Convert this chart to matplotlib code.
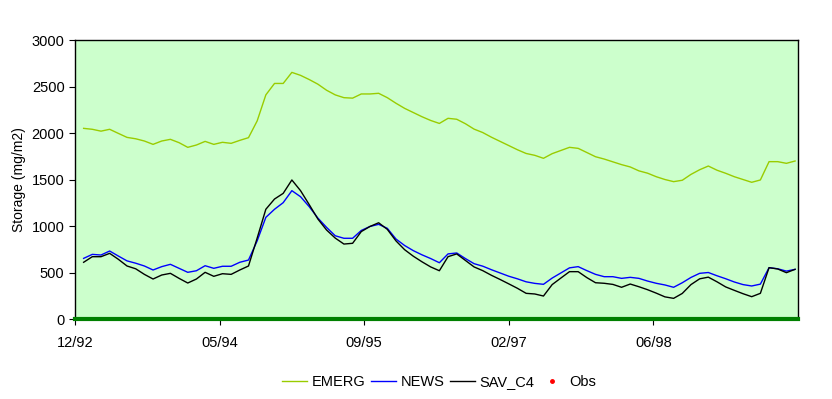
import numpy as np
import matplotlib
matplotlib.use("Agg")
import matplotlib.pyplot as plt

plt.rcParams['font.family'] = ['Liberation Sans', 'DejaVu Sans']

# model output every 30 days, days counted from 12/92
days = 30 * np.arange(1, 84)

emerg = [2050, 2040, 2020, 2040, 1996, 1953, 1938, 1914, 1878, 1914,
         1932, 1896, 1846, 1871, 1910, 1878, 1900, 1889, 1921, 1950,
         2130, 2410, 2533, 2533, 2652, 2620, 2575, 2525, 2460, 2410,
         2380, 2375, 2420, 2420, 2427, 2380, 2320, 2265, 2220, 2175,
         2135, 2103, 2158, 2148, 2100, 2042, 2005, 1955, 1910, 1865,
         1820, 1780, 1760, 1728, 1778, 1812, 1846, 1835, 1790, 1745,
         1720, 1690, 1660, 1635, 1593, 1568, 1530, 1500, 1477, 1492,
         1555, 1605, 1645, 1600, 1567, 1530, 1500, 1470, 1495, 1692,
         1692, 1674, 1699]

news = [652, 695, 688, 731, 677, 625, 600, 570, 527, 563,
        588, 545, 502, 519, 573, 545, 567, 567, 610, 634,
        840, 1093, 1180, 1251, 1380, 1315, 1208, 1085, 985, 895,
        868, 868, 952, 995, 1018, 975, 860, 790, 735, 690,
        650, 605, 700, 710, 650, 595, 568, 530, 495, 460,
        432, 400, 383, 373, 440, 495, 550, 563, 520, 480,
        455, 455, 437, 448, 437, 408, 384, 366, 341, 390,
        447, 491, 500, 465, 433, 398, 370, 355, 375, 552,
        540, 515, 534]

sav_c4 = [610, 670, 670, 706, 642, 570, 540, 480, 430, 473,
          491, 437, 387, 430, 502, 459, 487, 480, 527, 570,
          870, 1180, 1290, 1351, 1495, 1380, 1230, 1075, 957, 870,
          806, 814, 940, 995, 1035, 964, 840, 745, 675, 615,
          560, 519, 670, 700, 630, 560, 520, 470, 425, 378,
          330, 276, 269, 247, 370, 440, 509, 509, 445, 390,
          384, 372, 341, 376, 347, 315, 278, 238, 222, 275,
          370, 432, 450, 400, 345, 308, 272, 240, 276, 552,
          538, 498, 534]

tick_days = [0, 500, 1000, 1500, 2000]
tick_labels = ["12/92", "05/94", "09/95", "02/97", "06/98"]

fig = plt.figure(figsize=(8.32, 3.99), dpi=100)
ax = fig.add_axes([0.0901, 0.2005, 0.869, 0.6992])
ax.set_facecolor("#CCFFCC")

ax.plot(days, emerg, color="#99CC00", lw=1, label="EMERG")
ax.plot(days, news, color="#0000FF", lw=1, label="NEWS")
ax.plot(days, sav_c4, color="black", lw=1, label="SAV_C4")
ax.plot([], [], "o", color="red", ms=2.5, label="Obs")

ax.set_xlim(0, 2500)
ax.set_ylim(0, 3000)
ax.set_xticks(tick_days)
ax.set_xticklabels(tick_labels)
ax.set_yticks(np.arange(0, 3001, 500))
ax.tick_params(direction="out", length=4, labelsize=10.5, colors="black")
ax.tick_params(axis="x", pad=8)
ax.set_ylabel("Storage (mg/m2)", fontsize=10)

for s in ["left", "top", "right"]:
    ax.spines[s].set_linewidth(1)
ax.spines["bottom"].set_color("#008000")
ax.spines["bottom"].set_linewidth(3)

ax.legend(loc="center", bbox_to_anchor=(0.504, -0.225), ncol=4, frameon=False,
          fontsize=10.5, handlelength=1.7, columnspacing=0.35, handletextpad=0.35)

fig.savefig("out.png", dpi=100)
